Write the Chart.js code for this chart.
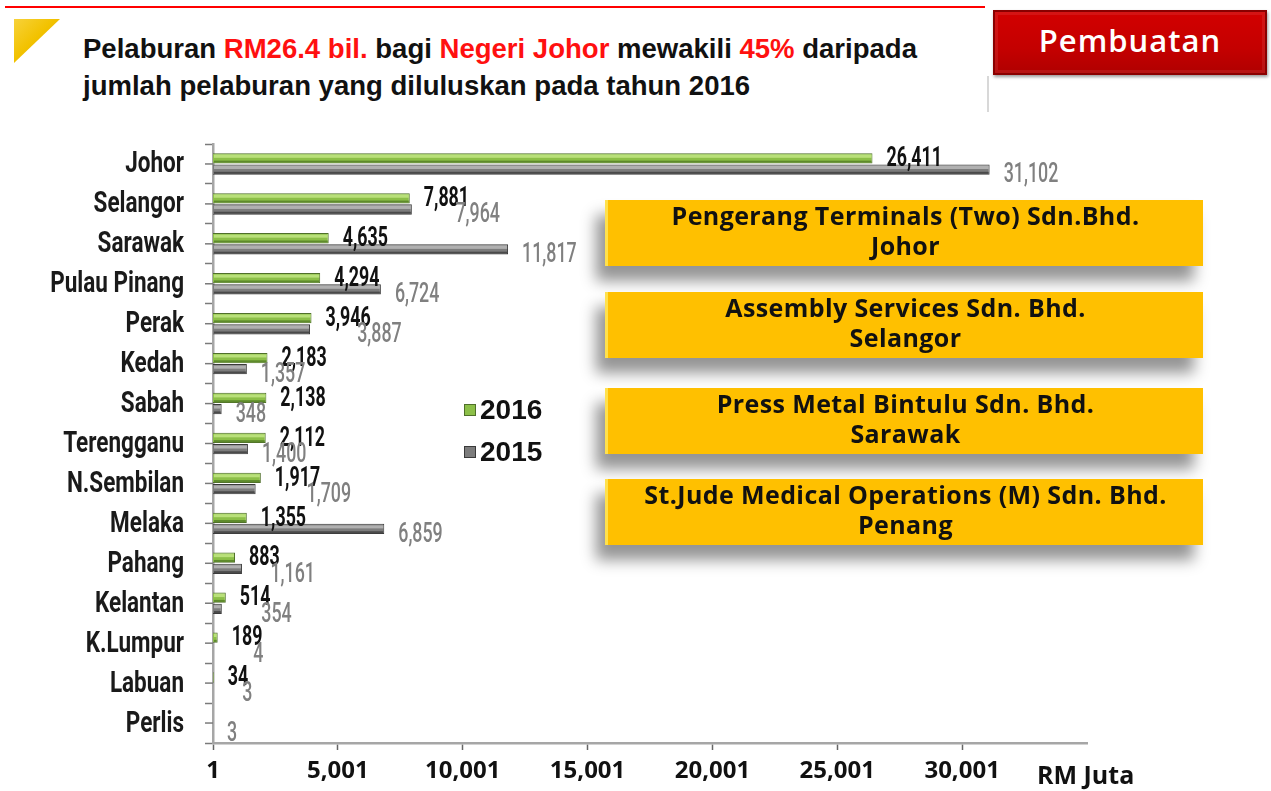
<!DOCTYPE html>
<html>
<head>
<meta charset="utf-8">
<script src="https://cdn.jsdelivr.net/npm/chart.js@4.4.1/dist/chart.umd.min.js"></script>
<style>
  body { margin: 0; width: 1271px; height: 791px; overflow: hidden; background: #fff; position: relative; font-family: "Liberation Sans", Arial, sans-serif; }
  #wrap { position: absolute; left: 0; top: 0; width: 1271px; height: 791px; z-index: 1; }
  .topline { position: absolute; left: 5px; top: 6px; width: 980px; height: 2px; background: #ff0000; }
  .icon { position: absolute; left: 14px; top: 19px; width: 46px; height: 44px;
    background: linear-gradient(135deg, #f7d23a 0%, #f2c200 45%, #d9a400 100%);
    clip-path: polygon(0 0, 100% 0, 0 100%); }
  .vline { position: absolute; left: 987px; top: 76px; width: 2px; height: 36px; background: #d8d8d8; }
  .title { position: absolute; left: 83px; top: 31px; font-weight: bold; font-size: 27px; line-height: 37px; color: #111; white-space: nowrap; transform-origin: 0 0; }
  .title .r { color: #ff1010; }
  .btn { position: absolute; left: 993px; top: 10px; width: 274px; height: 65px; box-sizing: border-box;
    background: linear-gradient(#d20000, #c40000 60%, #b00000);
    border: 2px solid #8a0000; box-shadow: inset 0 0 0 3px rgba(255,255,255,0.08), 1px 2px 3px rgba(0,0,0,0.4);
    color: #fff; font-family: "Open Sans", sans-serif; font-weight: 600; font-size: 31px; letter-spacing: 1px;
    text-align: center; line-height: 56px; }
  .box { position: absolute; left: 605px; width: 598px; height: 66px; box-sizing: border-box; z-index: 2;
    background: #ffc000; border-left: 3px solid #ffe14d;
    box-shadow: -9px 15px 14px rgba(0,0,0,0.42);
    font-family: "Open Sans", sans-serif; font-weight: bold; font-size: 25px; letter-spacing: 0.4px; line-height: 30px; color: #111;
    text-align: center; padding-top: 0; white-space: nowrap; }
  .unit { position: absolute; left: 1037px; top: 762px; font-family: "Open Sans", sans-serif; font-weight: bold; font-size: 25px; line-height: 25px; color: #111; z-index: 2; }
</style>
</head>
<body>
<div class="topline"></div>
<div class="icon"></div>
<div class="vline"></div>
<div class="title" id="title">
  <div id="l1">Pelaburan <span class="r">RM26.4 bil.</span> bagi <span class="r">Negeri Johor</span> mewakili <span class="r">45%</span> daripada</div>
  <div>jumlah pelaburan yang diluluskan pada tahun 2016</div>
</div>
<div class="btn">Pembuatan</div>
<div class="box" style="top:200px">Pengerang Terminals (Two) Sdn.Bhd.<br>Johor</div>
<div class="box" style="top:292px">Assembly Services Sdn. Bhd.<br>Selangor</div>
<div class="box" style="top:388px">Press Metal Bintulu Sdn. Bhd.<br>Sarawak</div>
<div class="box" style="top:479px">St.Jude Medical Operations (M) Sdn. Bhd.<br>Penang</div>
<div class="unit">RM Juta</div>
<div id="wrap"><canvas id="myChart" width="1271" height="791"></canvas></div>
<script>
var states = ['Johor', 'Selangor', 'Sarawak', 'Pulau Pinang', 'Perak', 'Kedah', 'Sabah', 'Terengganu',
  'N.Sembilan', 'Melaka', 'Pahang', 'Kelantan', 'K.Lumpur', 'Labuan', 'Perlis'];
var inv2016 = [26411, 7881, 4635, 4294, 3946, 2183, 2138, 2112, 1917, 1355, 883, 514, 189, 34, null];
var inv2015 = [31102, 7964, 11817, 6724, 3887, 1357, 348, 1400, 1709, 6859, 1161, 354, 4, 3, 3];
var seriesNames = ['2016', '2015'];

// squeeze the title to the width it has in the slide
var t = document.getElementById('title');
var w1 = document.getElementById('l1').getBoundingClientRect().width;
t.style.transform = 'scaleX(' + (834 / w1) + ')';

// condensed text: draw with a horizontal squeeze
function condText(ctx, txt, x, y, font, color, sx, align) {
  ctx.save();
  ctx.font = font;
  ctx.fillStyle = color;
  ctx.textBaseline = 'middle';
  ctx.textAlign = align;
  ctx.translate(x, y);
  ctx.scale(sx, 1);
  ctx.fillText(txt, 0, 0);
  var w = ctx.measureText(txt).width * sx;
  ctx.restore();
  return w;
}

var fmt = function(v) { return v.toLocaleString('en-US'); };

var decor = {
  id: 'decor',
  afterDatasetsDraw: function(chart) {
    var ctx = chart.ctx;
    var hi = ['#b9e07a', '#b0b0b0'];
    var lo = ['#5e8a2c', '#4a4a4a'];
    chart.data.datasets.forEach(function(ds, i) {
      chart.getDatasetMeta(i).data.forEach(function(bar, j) {
        if (ds.data[j] == null) return;
        var left = Math.min(bar.x, bar.base), w = Math.abs(bar.x - bar.base);
        if (w < 3) return;
        var top = bar.y - bar.height / 2;
        ctx.fillStyle = hi[i];
        ctx.fillRect(left + 1, top + 1.5, w - 2, bar.height * 0.3);
        ctx.fillStyle = lo[i];
        ctx.fillRect(left + 1, top + bar.height * 0.72, w - 2, bar.height * 0.2);
      });
    });
  },
  afterDraw: function(chart) {
    var ctx = chart.ctx;
    var y = chart.scales.y, x = chart.scales.x;
    // category names and tick marks at the centres
    ctx.save();
    ctx.strokeStyle = '#7a7a7a';
    ctx.lineWidth = 1.5;
    states.forEach(function(s, j) {
      var py = y.getPixelForValue(j);
      ctx.beginPath();
      ctx.moveTo(x.left - 8, py);
      ctx.lineTo(x.left, py);
      ctx.stroke();
      condText(ctx, s, x.left - 29, py + 1, 'bold 30px Roboto', '#1a1a1a', 0.75, 'right');
    });
    ctx.restore();

    // value labels
    var m16 = chart.getDatasetMeta(0).data, m15 = chart.getDatasetMeta(1).data;
    states.forEach(function(s, j) {
      var gx = null, gw = 0;
      if (inv2016[j] != null) {
        gx = m16[j].x + 14;
        gw = condText(ctx, fmt(inv2016[j]), gx, m16[j].y + 1, 'bold 27px Roboto', '#111', 0.66, 'left');
      }
      if (inv2015[j] != null) {
        var lx = m15[j].x + 14;
        if (gx != null && gw > 20 && lx >= gx - 6 && lx < gx + gw * 0.7) lx = gx + gw * 0.7;
        condText(ctx, fmt(inv2015[j]), lx, m15[j].y + 6, '500 27px Roboto', '#808080', 0.66, 'left');
      }
    });

    // legend
    chart.data.datasets.forEach(function(ds, i) {
      var ly = 410 + 42 * i;
      ctx.fillStyle = ds.backgroundColor;
      ctx.fillRect(464, ly - 6, 12, 12);
      ctx.strokeStyle = ds.borderColor;
      ctx.lineWidth = 1;
      ctx.strokeRect(464.5, ly - 5.5, 11, 11);
      ctx.fillStyle = '#111';
      ctx.font = 'bold 28px "Liberation Sans"';
      ctx.textBaseline = 'middle';
      ctx.textAlign = 'left';
      ctx.fillText(ds.label, 480, ly + 1);
    });
  }
};

var ctx = document.getElementById('myChart').getContext('2d');
var myChart = new Chart(ctx, {
  type: 'bar',
  data: {
    labels: states,
    datasets: [{
      label: seriesNames[0],
      data: inv2016,
      backgroundColor: '#8cbf48',
      borderColor: '#4f6f2a',
      borderWidth: 1
    }, {
      label: seriesNames[1],
      data: inv2015,
      backgroundColor: '#7c7c7c',
      borderColor: '#3a3a3a',
      borderWidth: 1
    }]
  },
  options: {
    indexAxis: 'y',
    responsive: false,
    animation: false,
    devicePixelRatio: 1,
    categoryPercentage: 0.56,
    barPercentage: 0.92,
    layout: {
      padding: { left: 203, right: 184, top: 144, bottom: 0 }
    },
    plugins: {
      legend: { display: false },
      tooltip: { enabled: false }
    },
    scales: {
      x: {
        type: 'linear',
        min: 1,
        max: 35001,
        afterFit: function(s) { s.height = 48; },
        grid: {
          drawOnChartArea: false,
          tickLength: 7,
          tickColor: function(c) { return c.tick && c.tick.value >= 35001 ? 'rgba(0,0,0,0)' : '#666'; },
          tickWidth: 1.5
        },
        border: { color: '#a6a6a6', width: 2.5 },
        ticks: {
          stepSize: 5000,
          padding: 7,
          color: '#111',
          font: { family: 'Open Sans', weight: 'bold', size: 24 },
          callback: function(v) { return v >= 35001 ? '' : fmt(v); },
          maxRotation: 0
        }
      },
      y: {
        afterFit: function(s) { s.width = 10; },
        grid: {
          drawOnChartArea: false,
          offset: true,
          tickLength: 8,
          tickColor: '#7a7a7a',
          tickWidth: 1.5
        },
        border: { color: '#a6a6a6', width: 2.5 },
        ticks: { display: false }
      }
    }
  },
  plugins: [decor]
});
</script>
</body>
</html>
